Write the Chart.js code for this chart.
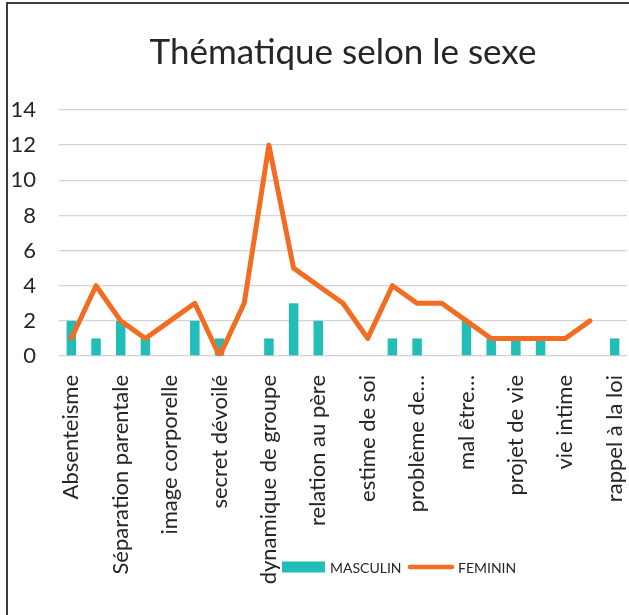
<!DOCTYPE html>
<html>
<head>
<meta charset="utf-8">
<script src="https://cdn.jsdelivr.net/npm/chart.js@4"></script>
<style>
    html, body { margin: 0; padding: 0; background: #fff; overflow: hidden; }
    #wrap { position: relative; width: 629px; height: 615px; }
    #frame {
        position: absolute; left: 6px; top: 2px; width: 700px; height: 700px;
        border-left: 2px solid #3c3c3c; border-top: 2px solid #3c3c3c;
        pointer-events: none;
    }
    canvas { position: absolute; left: 0; top: 0; }
</style>
</head>
<body>
<div id="wrap">
    <canvas id="chart" width="629" height="615"></canvas>
    <div id="frame"></div>
</div>
<script>
// Categories (only every other one is labelled on the axis)
const categories = [
    "Absenteisme", "", "Séparation parentale", "", "image corporelle", "",
    "secret dévoilé", "", "dynamique de groupe", "", "relation au père", "",
    "estime de soi", "", "problème de…", "", "mal être…", "",
    "projet de vie", "", "vie intime", "", "rappel à la loi"
];

// Series values
const masculin = [2, 1, 2, 1, 0, 2, 1, 0, 1, 3, 2, 0, 0, 1, 1, 0, 2, 1, 1, 1, 0, 0, 1];
const feminin = [1, 4, 2, 1, 2, 3, 0, 3, 12, 5, 4, 3, 1, 4, 3, 3, 2, 1, 1, 1, 1, 2, null];

// Y axis ticks
const yTicks = [0, 2, 4, 6, 8, 10, 12, 14];

const FONT = "Lato";
const TEAL = "#21bdb8";
const ORANGE = "#f26c22";

// Legend drawn by hand: it sits beside the rotated axis labels like in the original
const sideLegend = {
    id: "sideLegend",
    afterDraw(chart) {
        const ctx = chart.ctx;
        const y = 567;
        ctx.save();
        ctx.font = "14px " + FONT;
        ctx.textBaseline = "middle";

        // bar sample
        ctx.fillStyle = chart.data.datasets[1].backgroundColor;
        ctx.fillRect(282, y - 5.5, 43, 11);
        ctx.fillStyle = "#262626";
        ctx.fillText(chart.data.datasets[1].label, 330, y + 1);

        // line sample
        ctx.strokeStyle = chart.data.datasets[0].borderColor;
        ctx.lineWidth = 4.5;
        ctx.lineCap = "round";
        ctx.beginPath();
        ctx.moveTo(410, y);
        ctx.lineTo(452, y);
        ctx.stroke();
        ctx.fillText(chart.data.datasets[0].label, 458, y + 1);
        ctx.restore();
    }
};

new Chart(document.getElementById("chart"), {
    type: "bar",
    data: {
        labels: categories,
        datasets: [
            {
                type: "line",
                label: "FEMININ",
                data: feminin,
                borderColor: ORANGE,
                backgroundColor: ORANGE,
                borderWidth: 5,
                borderCapStyle: "round",
                borderJoinStyle: "round",
                pointRadius: 0,
                tension: 0,
                order: 0
            },
            {
                label: "MASCULIN",
                data: masculin,
                backgroundColor: TEAL,
                barPercentage: 0.385,
                categoryPercentage: 1,
                order: 1
            }
        ]
    },
    options: {
        responsive: false,
        animation: false,
        layout: { padding: { left: 0, right: 2, top: 0, bottom: 0 } },
        plugins: {
            legend: { display: false },
            tooltip: { enabled: false },
            title: {
                display: true,
                fullSize: false,
                text: "Thématique selon le sexe",
                color: "#262626",
                font: { family: FONT, size: 35, weight: "normal", lineHeight: 1.2 },
                padding: { top: 32, bottom: 36 }
            }
        },
        scales: {
            x: {
                offset: true,
                grid: { display: false },
                border: { display: false },
                ticks: {
                    autoSkip: false,
                    minRotation: 90,
                    maxRotation: 90,
                    padding: 11,
                    color: "#262626",
                    font: { family: FONT, size: 22 }
                },
                afterFit(scale) {
                    scale.height = 259;
                    scale.paddingLeft = 0;
                    scale.paddingRight = 0;
                }
            },
            y: {
                min: 0,
                max: 14,
                border: { display: false },
                grid: { color: "#d4d4d4", lineWidth: 1.3, drawTicks: false },
                afterBuildTicks(scale) {
                    scale.ticks = yTicks.map(v => ({ value: v }));
                },
                ticks: {
                    padding: 23,
                    color: "#262626",
                    font: { family: FONT, size: 22 }
                },
                afterFit(scale) {
                    scale.width = 59;
                }
            }
        }
    },
    plugins: [sideLegend]
});
</script>
</body>
</html>
